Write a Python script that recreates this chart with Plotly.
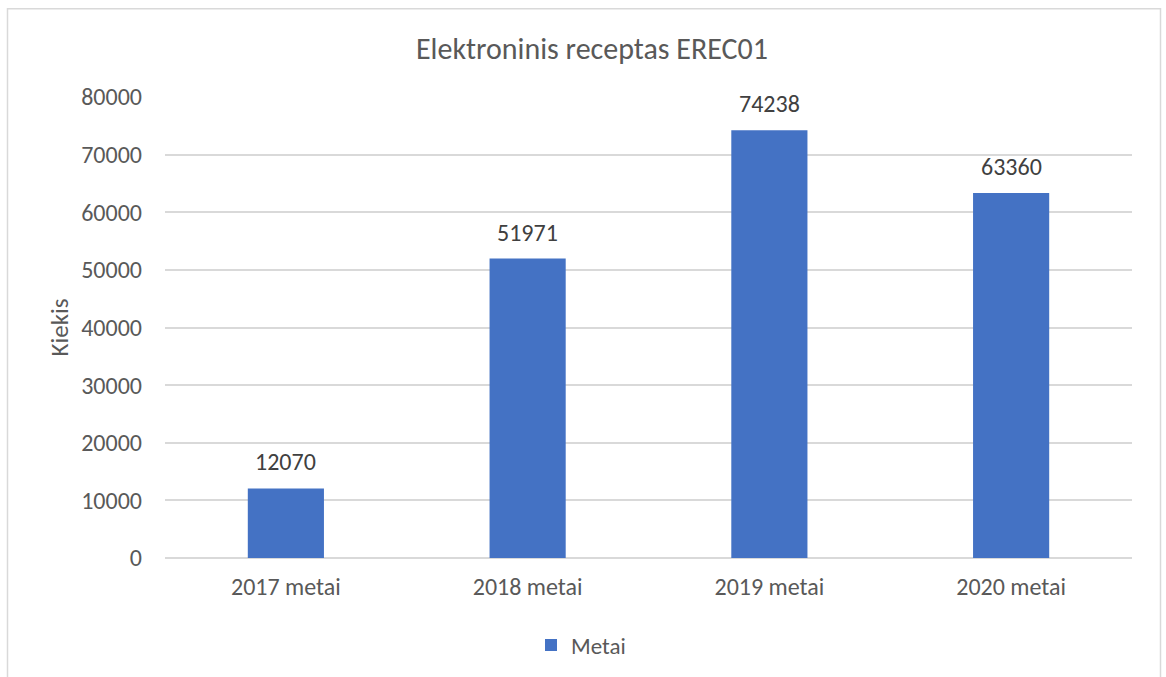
import plotly.graph_objects as go

categories = ["2017 metai", "2018 metai", "2019 metai", "2020 metai"]
values = [12070, 51971, 74238, 63360]
series_name = "Metai"
y_ticks = [0, 10000, 20000, 30000, 40000, 50000, 60000, 70000, 80000]
y_tick_labels = [str(v) for v in y_ticks]

W, H = 1166, 677
L, R, T, B = 165, 34, 97, 118
plot_w = W - L - R
plot_h = H - T - B

def px_x(px):
    return (px - L) / plot_w

def px_y(py):
    return (H - B - py) / plot_h

font_family = "Carlito, Calibri, Lato, sans-serif"
text_color = "#595959"

fig = go.Figure()
fig.add_trace(go.Bar(
    x=categories,
    y=values,
    name=series_name,
    marker=dict(color="#4472C4", line=dict(width=0)),
    width=0.315,
))

# value labels above each bar
for cat, val in zip(categories, values):
    fig.add_annotation(
        x=cat, y=val, text=str(val),
        showarrow=False, yanchor="bottom", yshift=10,
        font=dict(size=24, color="#404040", family=font_family),
    )

# outer chart frame
fig.add_shape(
    type="rect", xref="paper", yref="paper",
    x0=px_x(7.5), x1=px_x(1160.5), y0=px_y(700), y1=px_y(8.5),
    line=dict(color="#d9d9d9", width=1.5), fillcolor="rgba(0,0,0,0)",
    layer="below",
)

fig.update_layout(
    width=W, height=H,
    margin=dict(l=L, r=R, t=T, b=B),
    paper_bgcolor="white",
    plot_bgcolor="white",
    font=dict(family=font_family, color=text_color, size=24),
    title=dict(
        text="Elektroninis receptas EREC01",
        x=px_x(592), xref="paper", xanchor="center",
        y=1 - 48 / H, yref="container", yanchor="middle",
        font=dict(size=30, color=text_color, family=font_family),
    ),
    showlegend=True,
    legend=dict(
        orientation="h",
        x=px_x(531), xanchor="left",
        y=px_y(645), yanchor="middle",
        font=dict(size=23, color=text_color, family=font_family),
        itemsizing="constant",
        itemwidth=30,
    ),
    bargap=0.685,
    xaxis=dict(
        showline=False, showgrid=False, ticks="",
        tickfont=dict(size=24, color=text_color),
        ticklabelstandoff=12,
    ),
    yaxis=dict(
        range=[0, 80000],
        tickvals=y_ticks,
        ticktext=y_tick_labels,
        showgrid=True, gridcolor="#d9d9d9", gridwidth=1.5,
        zeroline=True, zerolinecolor="#d9d9d9", zerolinewidth=1.5,
        showline=False, ticks="",
        tickfont=dict(size=24, color=text_color),
        ticklabelstandoff=22,
        title=dict(text="Kiekis", font=dict(size=25, color=text_color), standoff=5),
    ),
)

fig.write_html("out.html")
